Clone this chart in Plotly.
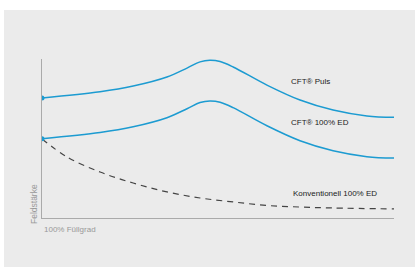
import plotly.graph_objects as go

# Data (relative units)
x_puls = [0, 16.5, 25.9, 35.5, 41.2, 44.9, 47.7, 50.6, 54.3, 63.9, 73.3, 82.7, 92.3, 100]
y_puls = [75.5, 79.4, 83.0, 88.7, 94.3, 98.2, 99.2, 98.4, 95.0, 83.6, 74.2, 67.9, 64.2, 63.3]

x_ed = [0, 16.5, 25.9, 35.5, 41.2, 44.9, 47.7, 50.6, 54.3, 63.9, 73.3, 82.7, 92.3, 100]
y_ed = [49.9, 53.8, 57.4, 63.1, 68.7, 72.6, 73.6, 72.8, 69.4, 58.0, 48.6, 42.3, 38.6, 37.7]

x_konv = [0, 7.1, 16.5, 25.9, 35.5, 44.9, 54.3, 63.9, 73.3, 82.7, 100]
y_konv = [49.7, 38.4, 28.9, 22.0, 16.4, 12.6, 10.1, 7.9, 6.9, 6.3, 5.7]

labels = ["CFT® Puls", "CFT® 100% ED", "Konventionell 100% ED"]
label_x = [70.2, 70.2, 70.8]
label_y = [86, 60, 15.5]

BLUE = "#1c9bd1"
BG = "#ebebeb"
FONT = "Liberation Sans, Arial"

fig = go.Figure()
fig.add_trace(go.Scatter(x=x_puls, y=y_puls, mode="lines", line=dict(color=BLUE, width=1.5, shape="spline", smoothing=1)))
fig.add_trace(go.Scatter(x=x_ed, y=y_ed, mode="lines", line=dict(color=BLUE, width=1.5, shape="spline", smoothing=1)))
fig.add_trace(go.Scatter(x=x_konv, y=y_konv, mode="lines", line=dict(color="#444444", width=1.2, dash="6px,5px", shape="spline", smoothing=1)))
fig.add_trace(go.Scatter(x=[x_puls[0], x_ed[0]], y=[y_puls[0], y_ed[0]], mode="markers",
                         marker=dict(color=BLUE, size=5, symbol="circle")))

for t, lx, ly in zip(labels, label_x, label_y):
    fig.add_annotation(x=lx, y=ly, text=t, showarrow=False, xanchor="left", yanchor="middle",
                       font=dict(family=FONT, size=8, color="#222222"))

fig.add_annotation(xref="paper", yref="paper", x=-8/352, y=14/159, text="Feldstärke", textangle=-90,
                   showarrow=False, xanchor="center", yanchor="middle",
                   font=dict(family=FONT, size=8.5, color="#999999"))
fig.add_annotation(xref="paper", yref="paper", x=0.0, y=-11/159, text="100% Füllgrad",
                   showarrow=False, xanchor="left", yanchor="middle",
                   font=dict(family=FONT, size=8, color="#999999"))

fig.add_shape(type="rect", xref="paper", yref="paper", x0=-38/352, x1=1 + 21/352, y0=-49/159, y1=1 + 49/159,
              fillcolor=BG, line=dict(width=0), layer="below")

fig.update_layout(
    width=416, height=276,
    margin=dict(l=42, r=22, t=59, b=58),
    paper_bgcolor="white", plot_bgcolor=BG,
    showlegend=False,
    xaxis=dict(range=[0, 100], showgrid=False, zeroline=False, showticklabels=False,
               showline=True, linecolor="#aaaaaa", linewidth=1, ticks=""),
    yaxis=dict(range=[0, 100], showgrid=False, zeroline=False, showticklabels=False,
               showline=True, linecolor="#aaaaaa", linewidth=1, ticks=""),
)

fig.write_html("out.html", config={"displayModeBar": False},
               post_script="document.body.style.margin='0';document.body.style.overflow='hidden';")
